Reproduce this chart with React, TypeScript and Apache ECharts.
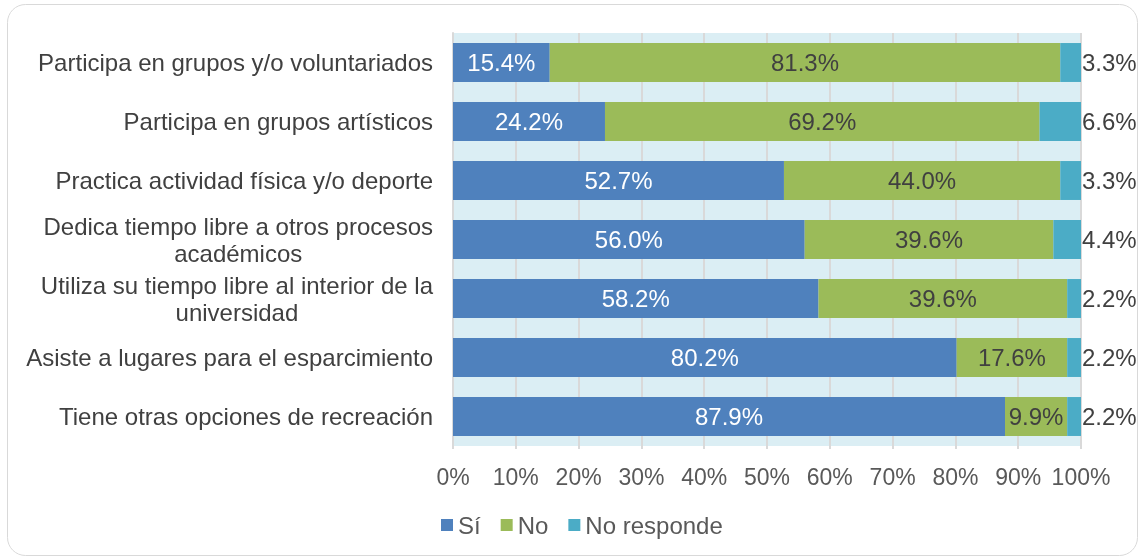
import React, { useEffect, useRef } from "react";
import * as echarts from "echarts";

const categories = [
  "Participa en grupos y/o voluntariados",
  "Participa en grupos artísticos",
  "Practica actividad física y/o deporte",
  "Dedica tiempo libre a otros procesos\nacadémicos",
  "Utiliza su tiempo libre al interior de la\nuniversidad",
  "Asiste a lugares para el esparcimiento",
  "Tiene otras opciones de recreación",
];
const siValues = [15.4, 24.2, 52.7, 56.0, 58.2, 80.2, 87.9];
const noValues = [81.3, 69.2, 44.0, 39.6, 39.6, 17.6, 9.9];
const nrValues = [3.3, 6.6, 3.3, 4.4, 2.2, 2.2, 2.2];
const seriesNames = ["Sí", "No", "No responde"];

const FONT = "'Liberation Sans', Arial, sans-serif";
const FS = 24;

export default function App() {
  const ref = useRef<HTMLDivElement>(null);
  useEffect(() => {
    if (!ref.current) return;
    const chart = echarts.init(ref.current, null, { renderer: "svg" });
    const fmt = (p: any) => p.value.toFixed(1) + "%";
    chart.setOption({
      animation: false,
      textStyle: { fontFamily: FONT },
      graphic: [
        {
          type: "rect",
          shape: { x: 7.5, y: 4.5, width: 1130, height: 551, r: 18 },
          style: { fill: "#fff", stroke: "#D9D9D9", lineWidth: 1 },
          z: -10,
          silent: true,
        },
      ],
      grid: {
        left: 453,
        right: 59,
        top: 33,
        bottom: 114,
        show: true,
        backgroundColor: "#DBEEF4",
        borderWidth: 0,
      },
      legend: {
        data: seriesNames,
        bottom: 18,
        left: 436,
        icon: "rect",
        itemWidth: 12,
        itemHeight: 12,
        itemGap: 20,
        textStyle: { fontSize: FS, color: "#595959", fontFamily: FONT },
      },
      xAxis: {
        type: "value",
        min: 0,
        max: 100,
        interval: 10,
        axisLabel: {
          formatter: "{value}%",
          fontSize: 23,
          color: "#595959",
          margin: 19,
          fontFamily: FONT,
        },
        splitLine: { show: true, lineStyle: { color: "#D9D9D9", width: 2 } },
        axisLine: { show: false },
        axisTick: { show: true, length: 3, lineStyle: { color: "#D9D9D9", width: 2 } },
      },
      yAxis: {
        type: "category",
        data: categories,
        inverse: true,
        axisLine: { show: true, lineStyle: { color: "#D9D9D9", width: 2 } },
        axisTick: { show: false },
        axisLabel: {
          margin: 20,
          color: "#404040",
          fontSize: FS,
          fontFamily: FONT,
          lineHeight: 27,
          formatter: (v: string) =>
            v
              .split("\n")
              .map((s) => "{c|" + s + "}")
              .join("\n"),
          rich: {
            c: {
              align: "center",
              fontSize: FS,
              lineHeight: 27,
              color: "#404040",
              fontFamily: FONT,
            },
          },
        },
      },
      series: [
        {
          name: seriesNames[0],
          type: "bar",
          stack: "t",
          data: siValues,
          barCategoryGap: "34%",
          itemStyle: { color: "#4F81BD" },
          label: {
            show: true,
            position: "inside",
            color: "#FFFFFF",
            fontSize: FS,
            fontFamily: FONT,
            formatter: fmt,
          },
        },
        {
          name: seriesNames[1],
          type: "bar",
          stack: "t",
          data: noValues,
          itemStyle: { color: "#9BBB59" },
          label: {
            show: true,
            position: "inside",
            color: "#404040",
            fontSize: FS,
            fontFamily: FONT,
            formatter: fmt,
          },
        },
        {
          name: seriesNames[2],
          type: "bar",
          stack: "t",
          data: nrValues,
          itemStyle: { color: "#4BACC6" },
          label: {
            show: true,
            position: "right",
            distance: 1,
            color: "#404040",
            fontSize: FS,
            fontFamily: FONT,
            formatter: fmt,
          },
        },
      ],
    });
    return () => chart.dispose();
  }, []);
  return (
    <div
      ref={ref}
      style={{ position: "fixed", left: 0, top: 0, width: 1140, height: 560 }}
    />
  );
}
